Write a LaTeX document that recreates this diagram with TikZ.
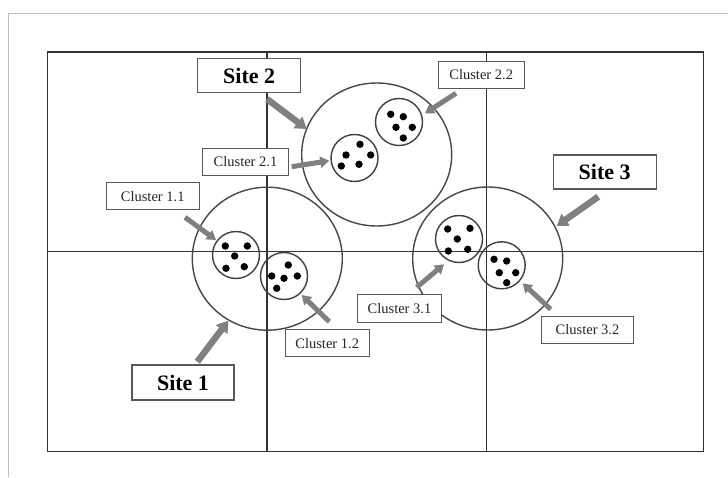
\documentclass[tikz,border=0pt]{standalone}
\usepackage{fontspec}
\setmainfont{Liberation Serif}
\usetikzlibrary{shapes.geometric,arrows.meta}
\tikzset{
  gridline/.style={draw=black!80, line width=1.6pt},
  sitecirc/.style={ellipse, draw=black!72, line width=1.4pt, minimum width=150pt, minimum height=143pt, inner sep=0pt},
  clucirc/.style={circle, draw=black!75, line width=1.4pt, minimum size=47pt, inner sep=0pt},
  sitebox/.style={draw=black!65, line width=1.4pt, fill=white, inner sep=0pt, minimum height=34pt, font=\fontsize{22}{24}\selectfont\bfseries},
  clubox/.style={draw=black!65, line width=1.3pt, fill=white, inner sep=0pt, minimum height=27pt, font=\fontsize{14.5}{16}\selectfont, text=black!85},
  sitearrow/.style={draw=black!50, line width=6.5pt, -{Triangle[width=14pt,length=11pt]}},
  cluarrow/.style={draw=black!50, line width=5pt, -{Triangle[width=11pt,length=9pt]}},
  dot/.style={fill=black, draw=none}
}
\begin{document}
\begin{tikzpicture}[x=1pt,y=-1pt]
\useasboundingbox (0,0) rectangle (728,478);
% outer light frame
\draw[black!25, line width=1.5pt] (8.3,476.7) -- (8.3,13.3) -- (728,13.3);
% grid
\draw[gridline] (47.3,52) rectangle (703.3,451.5);
\draw[gridline] (266.8,52) -- (266.8,451.5);
\draw[gridline] (486.5,52) -- (486.5,451.5);
\draw[gridline] (47.3,251.5) -- (703.3,251.5);
% site circles
\node[sitecirc] (s1c) at (267.3,258.7) {};
\node[sitecirc] (s2c) at (376.7,154.5) {};
\node[sitecirc] (s3c) at (487.7,258.5) {};
% cluster circles
\node[clucirc] (c11) at (236,255) {};
\node[clucirc] (c12) at (284,276) {};
\node[clucirc] (c21) at (354.5,158) {};
\node[clucirc] (c22) at (399,122) {};
\node[clucirc] (c31) at (459,239) {};
\node[clucirc] (c32) at (501.7,265.3) {};
% dots
\foreach \p in {(225.3,246),(247.3,246),(234.7,256),(226,268.3),(244.3,266.7),
                (288.3,265),(271.7,276),(284,278.3),(297.3,276),(276.7,288.3),
                (360,144.3),(346,155),(370.7,155),(341.3,166),(359,164.3),
                (390.7,114.3),(403.3,116.7),(396,127.3),(412.3,127.3),(403.3,138),
                (447.7,229),(470,228.3),(457.3,239),(448.3,251),(467.7,249.3),
                (494,259.3),(506.7,261),(499.3,272.7),(515.7,272.7),(506.7,282.7)}
  \fill[dot] \p circle (3.7pt);
% boxes
\node[sitebox, minimum width=102pt, minimum height=35pt] (site1) at (183,382.5) {Site 1};
\node[sitebox, minimum width=103pt] (site2) at (249.2,75.8) {Site 2};
\node[sitebox, minimum width=103pt] (site3) at (604.7,172.2) {Site 3};
\node[clubox, minimum width=93pt] (l11) at (152.7,196.3) {Cluster 1.1};
\node[clubox, minimum width=84pt] (l12) at (327.2,343.3) {Cluster 1.2};
\node[clubox, minimum width=86pt] (l21) at (245.5,161.7) {Cluster 2.1};
\node[clubox, minimum width=86pt] (l22) at (481.2,74.7) {Cluster 2.2};
\node[clubox, minimum width=84pt, minimum height=28pt] (l31) at (399.5,308.8) {Cluster 3.1};
\node[clubox, minimum width=92pt] (l32) at (587.5,330) {Cluster 3.2};
% arrow ends
\coordinate (a1s) at (197.3,361.7); \coordinate (a1e) at (228.3,320.7);
\coordinate (a2s) at (267,99);      \coordinate (a2e) at (306.7,129);
\coordinate (a3s) at (598.3,196.7); \coordinate (a3e) at (556.7,226);
\coordinate (b11s) at (185,217.3);  \coordinate (b11e) at (216,240);
\coordinate (b12s) at (329.3,321.7);\coordinate (b12e) at (301.7,295);
\coordinate (b21s) at (291.7,166.7);\coordinate (b21e) at (329.3,160.7);
\coordinate (b22s) at (456,93.3);   \coordinate (b22e) at (425,113.3);
\coordinate (b31s) at (416.7,287.3);\coordinate (b31e) at (444,264.3);
\coordinate (b32s) at (550.7,309.3);\coordinate (b32e) at (522.7,283.3);
% arrows
\draw[sitearrow] (a1s) -- (a1e);
\draw[sitearrow] (a2s) -- (a2e);
\draw[sitearrow] (a3s) -- (a3e);
\draw[cluarrow] (b11s) -- (b11e);
\draw[cluarrow] (b12s) -- (b12e);
\draw[cluarrow] (b21s) -- (b21e);
\draw[cluarrow] (b22s) -- (b22e);
\draw[cluarrow] (b31s) -- (b31e);
\draw[cluarrow] (b32s) -- (b32e);
\end{tikzpicture}
\end{document}
